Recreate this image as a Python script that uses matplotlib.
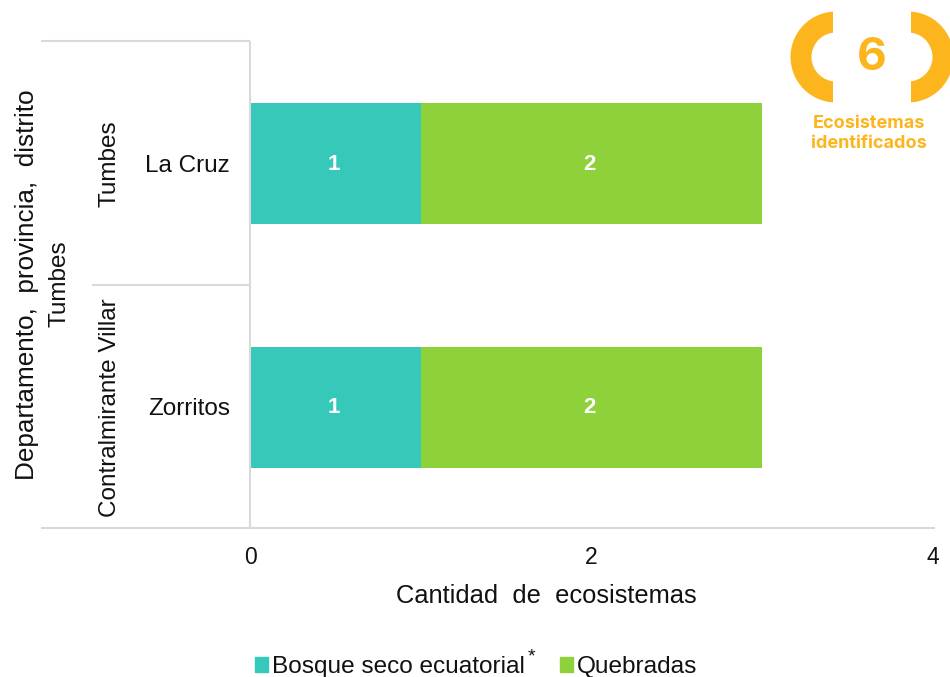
import matplotlib.pyplot as plt
from matplotlib.patches import Patch, Rectangle, Wedge
from matplotlib.transforms import blended_transform_factory

plt.rcParams['font.family'] = ['Liberation Sans', 'DejaVu Sans']

distritos = ['La Cruz', 'Zorritos']
provincias = ['Tumbes', 'Contralmirante Villar']
departamento = 'Tumbes'
bosque = [1, 1]
quebradas = [2, 2]
x_ticks = [0, 2, 4]

TEAL = '#36C9BA'
GREEN = '#8FD13A'
ORANGE = '#FDB51E'
GRID = '#D9D9D9'

W, H = 950, 677
fig = plt.figure(figsize=(W / 100, H / 100), dpi=100)

# ejes en pixeles de la imagen
ax = fig.add_axes([250.5 / W, 1 - 529 / H, (932.5 - 250.5) / W, (529 - 42) / H])
pos = [1, 0]
ax.barh(pos, bosque, height=0.495, color=TEAL, label='Bosque seco ecuatorial')
ax.barh(pos, quebradas, left=bosque, height=0.495, color=GREEN, label='Quebradas')

for p, a, b in zip(pos, bosque, quebradas):
    ax.annotate(str(a), (a / 2, p), xytext=(-1.2, -0.5), textcoords='offset points', color='white',
                fontsize=16, fontweight='bold', ha='center', va='center')
    ax.annotate(str(b), (a + b / 2, p), xytext=(-1.2, -0.5), textcoords='offset points', color='white',
                fontsize=16, fontweight='bold', ha='center', va='center')

ax.set_xlim(0, 4)
ax.set_ylim(-0.5, 1.5)
ax.set_xticks(x_ticks)
ax.set_yticks([])
ax.tick_params(axis='x', length=0, pad=12.5, labelsize=16.5, colors='#111111')
for s in ['top', 'right', 'left', 'bottom']:
    ax.spines[s].set_visible(False)

# capa de pixeles para la tabla del eje y el logo
ov = fig.add_axes([0, 0, 1, 1], zorder=5)
ov.set_xlim(0, W)
ov.set_ylim(H, 0)
ov.axis('off')
ov.patch.set_alpha(0)

lw = 1.5
ov.plot([41, 250], [41, 41], color=GRID, lw=lw, solid_capstyle='butt')
ov.plot([92, 250], [284.5, 284.5], color=GRID, lw=lw, solid_capstyle='butt')
ov.plot([41, 935], [528, 528], color=GRID, lw=lw, solid_capstyle='butt')
ov.plot([250, 250], [41, 528], color=GRID, lw=lw, solid_capstyle='butt')

tc = '#111111'
trans = blended_transform_factory(ov.transData, ax.transData)
for p, d, pr in zip(pos, distritos, provincias):
    ov.annotate(d, (230, p), xycoords=trans, xytext=(0, -1.5), textcoords='offset points',
                ha='right', va='center', fontsize=17.5, color=tc)
    ov.text(110, p, pr, transform=trans, ha='center', va='center', rotation=90, fontsize=17.5, color=tc)
ov.text(60, 284, departamento, ha='center', va='center', rotation=90, fontsize=17.5, color=tc)
ov.text(27, 285, 'Departamento,  provincia,  distrito', ha='center', va='center', rotation=90,
        fontsize=18.8, color=tc)
ov.text(546, 596, 'Cantidad  de  ecosistemas', ha='center', va='center', fontsize=18.4, color=tc)

# leyenda
handles = [Patch(color=TEAL), Patch(color=GREEN)]
leg = ov.legend(handles, ['Bosque seco ecuatorial', 'Quebradas'], ncol=2, frameon=False,
                loc='center', bbox_to_anchor=(476, 667), bbox_transform=ov.transData,
                fontsize=17.6, handlelength=0.53, handleheight=0.53, handletextpad=0.16,
                columnspacing=1.43, labelcolor=tc)
ov.text(531, 657, '*', ha='center', va='center', fontsize=14, color=tc)

# logo
clip_l = Rectangle((780, 0), 53, 120, transform=ov.transData)
clip_r = Rectangle((911, 0), 39, 120, transform=ov.transData)
wl = Wedge((836, 57), 45.5, 90, 270, width=21, color=ORANGE, lw=0)
wr = Wedge((908, 57), 45.5, -90, 90, width=21, color=ORANGE, lw=0)
ov.add_patch(wl)
ov.add_patch(wr)
wl.set_clip_path(clip_l)
wr.set_clip_path(clip_r)
ov.text(872, 58, '6', ha='center', va='center', color=ORANGE, fontsize=33, fontweight='bold', family='Inter')
ov.text(869, 123, 'Ecosistemas', ha='center', va='center', color=ORANGE, fontsize=13, fontweight='bold', family='Inter')
ov.text(869, 144, 'identificados', ha='center', va='center', color=ORANGE, fontsize=13, fontweight='bold', family='Inter')

fig.savefig('out.png', dpi=100)
